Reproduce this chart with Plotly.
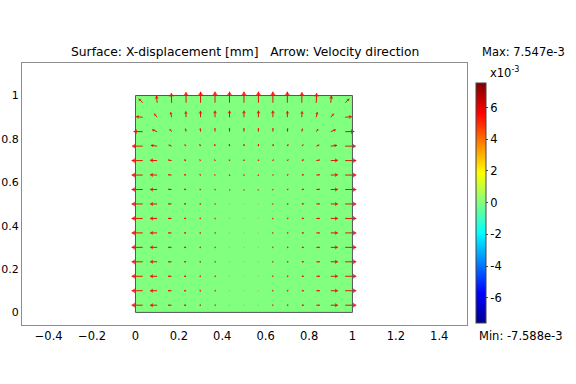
import numpy as np
import plotly.graph_objects as go

# ---------------- data ----------------
TITLE = "Surface: X-displacement [mm]\u00a0\u00a0\u00a0Arrow: Velocity direction"
X_TICKS = [-0.4, -0.2, 0, 0.2, 0.4, 0.6, 0.8, 1, 1.2, 1.4]
Y_TICKS = [0, 0.2, 0.4, 0.6, 0.8, 1]
CB_TICKS = [-6, -4, -2, 0, 2, 4, 6]
CB_TICKTEXT = ["-6", "-4", "-2", "0", "2", "4", "6"]
Z_MIN = -7.588   # x1e-3
Z_MAX = 7.547    # x1e-3

# surface (x-displacement, x1e-3 mm) over the unit square
SURF_X = [0.0, 1.0]
SURF_Y = [0.0, 1.0]
SURF_Z = [[0.0]]

# arrow grid (15 x 15)
N_ARROWS = 15

# velocity components, top row first, columns left->right
U_TOP_DOWN = [
    [-4.0, -0.7, -0.3, -0.1, 0, 0, 0, 0, 0, 0, 0, 0.1, 0.3, 0.7, 4.0],
    [-6.5, -3.0, -1.0, -0.3, -0.1, 0, 0, 0, 0, 0, 0.1, 0.3, 1.0, 3.0, 6.5],
    [-9.0, -5.0, -1.8, -0.7, -0.3, -0.1, 0, 0, 0, 0.1, 0.3, 0.7, 1.8, 5.0, 9.0],
    [-10.5, -6.2, -3.0, -1.5, -0.8, -0.4, -0.1, 0, 0.1, 0.4, 0.8, 1.5, 3.0, 6.2, 10.5],
    [-11, -7, -3.5, -1.9, -1.0, -0.5, -0.2, 0, 0.2, 0.5, 1.0, 1.9, 3.5, 7, 11],
    [-11, -7, -3.5, -2.0, -1.0, -0.5, -0.2, 0, 0.2, 0.5, 1.0, 2.0, 3.5, 7, 11],
    [-11, -7, -3.5, -2.0, -1.0, -0.5, -0.2, 0, 0.2, 0.5, 1.0, 2.0, 3.5, 7, 11],
    [-11, -7, -3.5, -2.0, -1.0, -0.5, -0.2, 0, 0.2, 0.5, 1.0, 2.0, 3.5, 7, 11],
    [-11, -7, -3.5, -2.0, -1.0, -0.5, -0.2, 0, 0.2, 0.5, 1.0, 2.0, 3.5, 7, 11],
    [-11, -7, -3.5, -2.0, -1.0, -0.5, -0.2, 0, 0.2, 0.5, 1.0, 2.0, 3.5, 7, 11],
    [-11, -7, -3.5, -2.0, -1.0, -0.5, -0.2, 0, 0.2, 0.5, 1.0, 2.0, 3.5, 7, 11],
    [-11, -7, -3.5, -2.0, -1.0, -0.5, -0.2, 0, 0.2, 0.5, 1.0, 2.0, 3.5, 7, 11],
    [-11, -7, -3.5, -2.0, -1.0, -0.5, -0.2, 0, 0.2, 0.5, 1.0, 2.0, 3.5, 7, 11],
    [-11, -7, -3.5, -2.0, -1.0, -0.5, -0.2, 0, 0.2, 0.5, 1.0, 2.0, 3.5, 7, 11],
    [-11, -7, -3.5, -2.0, -1.0, -0.5, -0.2, 0, 0.2, 0.5, 1.0, 2.0, 3.5, 7, 11],
]
V_TOP_DOWN = [
    [4.0, 7.0, 9.5, 10.5, 11, 11, 11, 11, 11, 11, 11, 10.5, 9.5, 7.0, 4.0],
    [0.5, 3.5, 5.0, 5.8, 6.2, 6.5, 6.5, 6.5, 6.5, 6.5, 6.2, 5.8, 5.0, 3.5, 0.5],
    [0.2, 2.0, 2.5, 3.0, 3.3, 3.5, 3.5, 3.5, 3.5, 3.5, 3.3, 3.0, 2.5, 2.0, 0.2],
    [0, 0.8, 1.2, 1.5, 1.8, 2.0, 2.0, 2.0, 2.0, 2.0, 1.8, 1.5, 1.2, 0.8, 0],
    [0, 0.3, 0.6, 0.8, 1.0, 1.1, 1.1, 1.1, 1.1, 1.1, 1.0, 0.8, 0.6, 0.3, 0],
    [0, 0.2, 0.3, 0.4, 0.5, 0.6, 0.6, 0.6, 0.6, 0.6, 0.5, 0.4, 0.3, 0.2, 0],
    [0, 0.1, 0.2, 0.2, 0.3, 0.3, 0.3, 0.3, 0.3, 0.3, 0.3, 0.2, 0.2, 0.1, 0],
    [0, 0, 0.1, 0.1, 0.1, 0.15, 0.15, 0.15, 0.15, 0.15, 0.1, 0.1, 0.1, 0, 0],
    [0, 0, 0, 0, 0.05, 0.05, 0.05, 0.05, 0.05, 0.05, 0.05, 0, 0, 0, 0],
    [0] * 15,
    [0] * 15,
    [0] * 15,
    [0] * 15,
    [0] * 15,
    [0] * 15,
]

# ---------------- presentation ----------------
FONT = "DejaVu Sans"
FS = 11.5
W, H = 576, 384
ML, MR, MT, MB = 22, 109, 63, 59
X_RANGE = [-0.523, 1.528]
Y_RANGE = [-0.058, 1.15]
PX_PER_UNIT = (W - ML - MR) / (X_RANGE[1] - X_RANGE[0])
ARROW_SCALE = 1.0 / PX_PER_UNIT   # data units per velocity unit
HEAD_PX = 4.5

jet = [[0.0, "rgb(0,0,143)"], [0.125, "rgb(0,0,255)"], [0.375, "rgb(0,255,255)"],
       [0.625, "rgb(255,255,0)"], [0.875, "rgb(255,0,0)"], [1.0, "rgb(128,0,0)"]]

fig = go.Figure()
fig.add_trace(go.Heatmap(
    x=SURF_X, y=SURF_Y, z=SURF_Z, zmin=Z_MIN, zmax=Z_MAX, colorscale=jet,
    hoverinfo="skip",
    colorbar=dict(
        x=(476 - ML) / (W - ML - MR), xanchor="left", xpad=0,
        y=(H - MB - 203) / (H - MT - MB), yanchor="middle", ypad=0,
        thickness=10, thicknessmode="pixels", len=240, lenmode="pixels",
        outlinewidth=1, outlinecolor="#444444",
        tickvals=CB_TICKS, ticktext=CB_TICKTEXT, ticks="outside", ticklen=2,
        tickcolor="#444444", tickfont=dict(family=FONT, size=FS, color="black"),
    ),
))

# domain outline
fig.add_shape(type="rect", x0=SURF_X[0], x1=SURF_X[1], y0=SURF_Y[0], y1=SURF_Y[1],
              line=dict(color="#555555", width=1), fillcolor="rgba(0,0,0,0)")

# arrows
grid = [(k + 0.5) / N_ARROWS for k in range(N_ARROWS)]
U = np.array(U_TOP_DOWN[::-1], dtype=float)
V = np.array(V_TOP_DOWN[::-1], dtype=float)
sx, sy = [], []
hx, hy, hang, hsize = [], [], [], []
dx_, dy_ = [], []
for r in range(N_ARROWS):
    for c in range(N_ARROWS):
        x0, y0 = grid[c], grid[r]
        u, v = U[r, c], V[r, c]
        L = np.hypot(u, v)
        if L < 0.3:
            dx_.append(x0); dy_.append(y0)
            continue
        x1, y1 = x0 + u * ARROW_SCALE, y0 + v * ARROW_SCALE
        sx += [x0, x1, None]; sy += [y0, y1, None]
        hs = min(HEAD_PX, max(2.0, L * 0.55))
        back = hs * 0.45 * ARROW_SCALE
        hx.append(x1 - u / L * back); hy.append(y1 - v / L * back)
        hang.append(float(np.degrees(np.arctan2(u, v))))
        hsize.append(hs)

fig.add_trace(go.Scatter(x=sx, y=sy, mode="lines", line=dict(color="#e01a00", width=1),
                         hoverinfo="skip", showlegend=False))
fig.add_trace(go.Scatter(x=hx, y=hy, mode="markers", hoverinfo="skip", showlegend=False,
                         marker=dict(symbol="triangle-up", size=hsize, angle=hang,
                                     color="#ff0000", line=dict(width=0))))
fig.add_trace(go.Scatter(x=dx_, y=dy_, mode="markers", hoverinfo="skip", showlegend=False,
                         marker=dict(symbol="square", size=1.2, color="rgba(220,130,60,0.45)",
                                     line=dict(width=0))))

axis_common = dict(showgrid=False, zeroline=False, showline=True, mirror=True,
                   linecolor="#8c8c8c", linewidth=1, ticks="", automargin=False)
fig.update_layout(
    width=W, height=H, margin=dict(l=ML, r=MR, t=MT, b=MB, autoexpand=False),
    paper_bgcolor="white", plot_bgcolor="white", showlegend=False,
    xaxis=dict(range=X_RANGE, tickvals=X_TICKS,
               tickfont=dict(family=FONT, size=FS, color="black"), **axis_common),
    yaxis=dict(range=Y_RANGE, tickvals=Y_TICKS, ticklabelstandoff=0,
               tickfont=dict(family=FONT, size=11, color="black"), **axis_common),
    font=dict(family=FONT, size=FS, color="black"),
)

PW, PH = W - ML - MR, H - MT - MB
def px(xp): return (xp - ML) / PW
def py(yp): return (H - MB - yp) / PH

fig.add_annotation(text=TITLE, x=0.5, y=py(52), xref="paper", yref="paper",
                   showarrow=False, xanchor="center", yanchor="middle",
                   font=dict(family=FONT, size=12.3))
fig.add_annotation(text="Max: 7.547e-3", x=px(480), y=py(52), xref="paper", yref="paper",
                   showarrow=False, xanchor="left", yanchor="middle",
                   font=dict(family=FONT, size=FS))
fig.add_annotation(text="x10<sup>-3</sup>", x=px(488), y=py(73), xref="paper", yref="paper",
                   showarrow=False, xanchor="left", yanchor="middle",
                   font=dict(family=FONT, size=FS))
fig.add_annotation(text="Min: -7.588e-3", x=px(477), y=py(336), xref="paper", yref="paper",
                   showarrow=False, xanchor="left", yanchor="middle",
                   font=dict(family=FONT, size=FS))

fig.write_html("out.html", config={"displayModeBar": False},
               post_script="document.body.style.margin='0';")
